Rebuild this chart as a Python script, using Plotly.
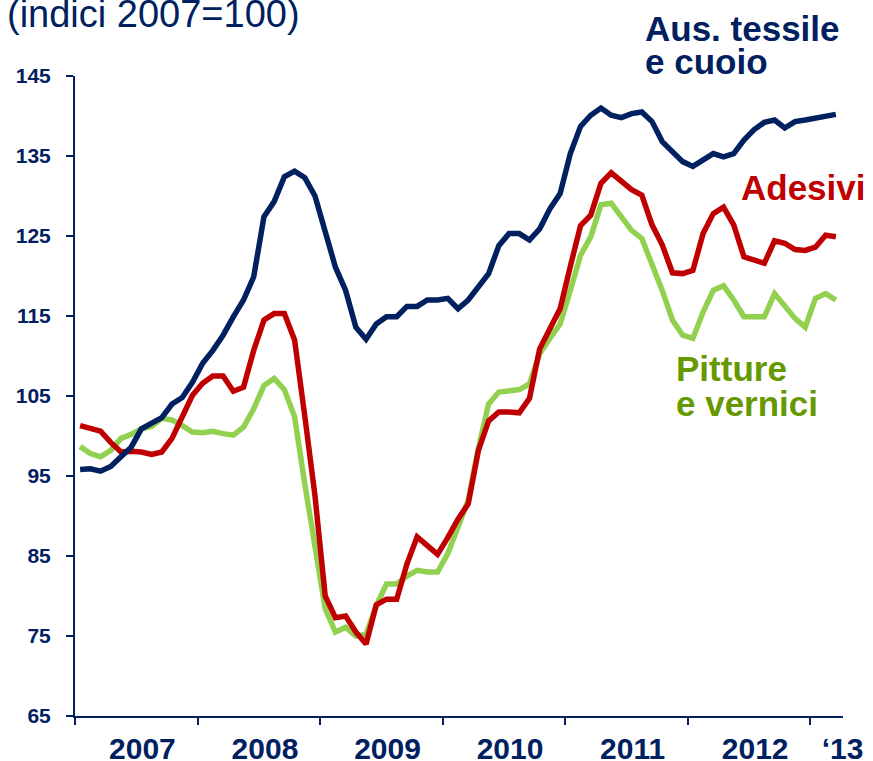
import plotly.graph_objects as go

# ---- data (monthly, Jan 2007 - Mar 2013; indices 2007=100) ----
month_pos = [i + 0.5 for i in range(75)]  # mid-month positions, 0 = 1 Jan 2007

tessile = [95.8, 95.9, 95.6, 96.2, 97.4, 98.6, 100.9, 101.6, 102.3, 104.0, 104.8, 106.7,
           109.1, 110.7, 112.6, 114.9, 117.0, 119.9, 127.4, 129.3, 132.4, 133.1, 132.3, 130.0,
           125.3, 121.1, 118.2, 113.6, 112.1, 114.0, 114.9, 114.9, 116.2, 116.2, 117.0, 117.0,
           117.2, 115.9, 117.0, 118.6, 120.3, 123.8, 125.3, 125.3, 124.5, 125.9, 128.4, 130.3,
           135.3, 138.7, 140.1, 141.0, 140.1, 139.8, 140.3, 140.5, 139.3, 136.8, 135.5, 134.3,
           133.7, 134.5, 135.3, 134.9, 135.3, 137.0, 138.3, 139.2, 139.5, 138.5, 139.3, 139.5,
           139.7, 139.9, 140.2]

adesivi = [101.3, 100.9, 100.6, 99.2, 98.0, 98.1, 98.0, 97.7, 98.0, 99.7, 102.4, 105.1,
           106.6, 107.5, 107.5, 105.6, 106.1, 110.7, 114.5, 115.3, 115.3, 112.0, 102.5, 92.5,
           80.0, 77.3, 77.5, 75.5, 74.0, 78.9, 79.6, 79.6, 84.0, 87.4, 86.3, 85.2,
           87.3, 89.6, 91.5, 98.2, 101.9, 103.0, 103.0, 102.9, 104.7, 110.9, 113.4, 115.9,
           121.2, 126.3, 127.6, 131.6, 132.9, 131.9, 130.8, 130.1, 126.4, 123.9, 120.4, 120.3,
           120.7, 125.3, 127.8, 128.6, 126.4, 122.4, 122.0, 121.6, 124.4, 124.1, 123.3, 123.2,
           123.6, 125.1, 124.9]

pitture = [98.7, 97.8, 97.4, 98.2, 99.7, 100.2, 100.9, 101.2, 102.2, 102.0, 101.3, 100.5,
           100.4, 100.6, 100.3, 100.1, 101.1, 103.4, 106.3, 107.2, 105.8, 102.4, 94.0, 86.0,
           78.4, 75.5, 76.1, 75.0, 75.2, 78.8, 81.5, 81.5, 82.5, 83.2, 83.0, 83.0,
           85.3, 88.6, 92.0, 98.5, 104.0, 105.5, 105.7, 105.8, 106.5, 110.3, 112.2, 114.0,
           118.2, 122.6, 124.9, 128.9, 129.1, 127.4, 125.7, 124.7, 121.6, 118.2, 114.5, 112.6,
           112.2, 115.5, 118.2, 118.8, 117.0, 114.9, 114.9, 114.9, 117.8, 116.3, 114.7, 113.6,
           117.2, 117.8, 117.0]

year_starts = [0, 12, 24, 36, 48, 60, 72]
year_label_pos = [6.6, 18.6, 30.6, 42.6, 54.6, 66.6, 75.15]
year_labels = ["2007", "2008", "2009", "2010", "2011", "2012", "\u201813"]
y_ticks = [65, 75, 85, 95, 105, 115, 125, 135, 145]

NAVY = "#002060"
RED = "#c00000"
GREEN_LINE = "#92d050"
GREEN_TEXT = "#669900"
FONT = "Liberation Sans, Arial, sans-serif"

fig = go.Figure()
fig.add_trace(go.Scatter(x=month_pos, y=pitture, mode="lines",
                         line=dict(color=GREEN_LINE, width=5.5), name="Pitture e vernici"))
fig.add_trace(go.Scatter(x=month_pos, y=adesivi, mode="lines",
                         line=dict(color=RED, width=5.5), name="Adesivi"))
fig.add_trace(go.Scatter(x=month_pos, y=tessile, mode="lines",
                         line=dict(color=NAVY, width=5.5), name="Aus. tessile e cuoio"))

L, R, T, B = 75, 30, 76, 45
W, H = 873, 761
PW, PH = W - L - R, H - T - B


def px(xp):
    return (xp - L) / PW


def py(yp):
    return (H - B - yp) / PH


def label(text, x_left, y_mid, color, size, bold=True):
    fig.add_annotation(text=text, xref="paper", yref="paper", x=px(x_left), y=py(y_mid),
                       xanchor="left", yanchor="middle", showarrow=False,
                       font=dict(family=FONT, size=size, color=color,
                                 weight="bold" if bold else "normal"))


label("(indici 2007=100)", 5, 14, NAVY, 38, bold=False)
label("Aus. tessile", 643, 29, NAVY, 35)
label("e cuoio", 643, 62, NAVY, 35)
label("Adesivi", 739, 187, RED, 35)
label("Pitture", 674, 368, GREEN_TEXT, 35)
label("e vernici", 674, 403, GREEN_TEXT, 35)

fig.update_layout(
    width=W, height=H,
    margin=dict(l=L, r=R, t=T, b=B, autoexpand=False),
    paper_bgcolor="white", plot_bgcolor="white",
    showlegend=False,
    hovermode=False,
    xaxis=dict(range=[0, 75.2], showgrid=False, zeroline=False, automargin=False,
               showline=True, linecolor=NAVY, linewidth=2,
               tickmode="array", tickvals=year_label_pos, ticktext=year_labels,
               ticks="", ticklabelstandoff=5,
               tickfont=dict(family=FONT, size=30, color=NAVY, weight="bold"),
               minor=dict(tickmode="array", tickvals=year_starts, ticks="outside",
                          ticklen=7, tickwidth=2, tickcolor=NAVY, showgrid=False)),
    yaxis=dict(range=[65, 145], showgrid=False, zeroline=False, automargin=False,
               showline=True, linecolor=NAVY, linewidth=2,
               tickmode="array", tickvals=y_ticks,
               ticks="outside", ticklen=7, tickwidth=2, tickcolor=NAVY,
               ticklabelstandoff=11,
               tickfont=dict(family=FONT, size=21, color=NAVY, weight="bold")),
)

# remove the browser's default page margin so the figure sits at the window's top-left
fig.write_html("out.html", config={"displayModeBar": False},
               post_script="document.body.style.margin='0';")
